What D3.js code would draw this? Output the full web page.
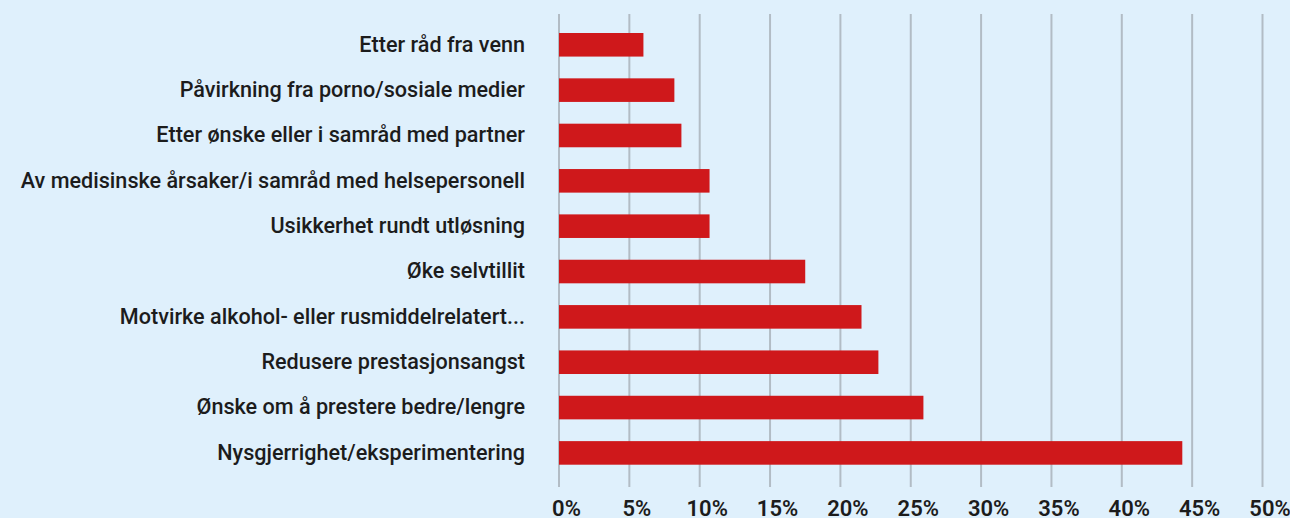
<!DOCTYPE html>
<html>
<head>
<meta charset="utf-8">
<script src="https://cdn.jsdelivr.net/npm/d3@7"></script>
<style>
  body { margin: 0; background: #dff0fc; }
  #chart-area { width: 1290px; height: 518px; overflow: hidden; }
  text { font-family: Roboto, "Noto Sans", sans-serif; fill: #1c1c1c; }
</style>
</head>
<body>
<div id="chart-area"></div>
<script>
// categories from top to bottom, with share in percent
let categories = [
	"Etter råd fra venn",
	"Påvirkning fra porno/sosiale medier",
	"Etter ønske eller i samråd med partner",
	"Av medisinske årsaker/i samråd med helsepersonell",
	"Usikkerhet rundt utløsning",
	"Øke selvtillit",
	"Motvirke alkohol- eller rusmiddelrelatert...",
	"Redusere prestasjonsangst",
	"Ønske om å prestere bedre/lengre",
	"Nysgjerrighet/eksperimentering"
];
let values = [6.0, 8.2, 8.7, 10.7, 10.7, 17.5, 21.5, 22.7, 25.9, 44.3];
let ticks = [0, 5, 10, 15, 20, 25, 30, 35, 40, 45, 50];

let margin = {top: 14, right: 28, bottom: 31, left: 559};
let width = 1290 - margin.left - margin.right;
let height = 518 - margin.top - margin.bottom;

let svg = d3.select("#chart-area").append("svg")
		.attr("width", 1290)
		.attr("height", 518)
	.append("g")
		.attr("transform", "translate(" + margin.left + "," + margin.top + ")");

let xScale = d3.scaleLinear().domain([0, 50]).range([0, 703.5]);
let yScale = d3.scaleBand().domain(categories).range([19, 450.7]).paddingInner(0.48).paddingOuter(0);

// gridlines
svg.selectAll(".grid")
	.data(ticks)
	.enter().append("line")
	.attr("class", "grid")
	.attr("x1", d => xScale(d))
	.attr("x2", d => xScale(d))
	.attr("y1", 0)
	.attr("y2", height)
	.attr("stroke", "#b2bcc5")
	.attr("stroke-width", 2);

// bars
svg.selectAll(".bar")
	.data(values)
	.enter().append("rect")
	.attr("class", "bar")
	.attr("x", 0)
	.attr("y", (d, i) => yScale(categories[i]))
	.attr("width", d => xScale(d))
	.attr("height", yScale.bandwidth())
	.attr("fill", "#cf181b");

// category labels
let yAxis = d3.axisLeft(yScale).tickSize(0).tickPadding(34);
svg.append("g")
	.attr("class", "y axis")
	.call(yAxis)
	.call(g => g.select(".domain").remove())
	.selectAll("text")
	.attr("font-size", "21.6px")
	.attr("font-weight", 500)
	.attr("fill", "#1c1c1c");

// percent labels
let xAxis = d3.axisBottom(xScale).tickValues(ticks).tickSize(0).tickPadding(0).tickFormat(d => d + "%");
svg.append("g")
	.attr("class", "x axis")
	.attr("transform", "translate(0," + height + ")")
	.call(xAxis)
	.call(g => g.select(".domain").remove())
	.selectAll("text")
	.attr("dx", 7)
	.attr("dy", "1.3em")
	.attr("font-size", "22px")
	.attr("font-weight", 600)
	.attr("fill", "#1c1c1c");
</script>
</body>
</html>
